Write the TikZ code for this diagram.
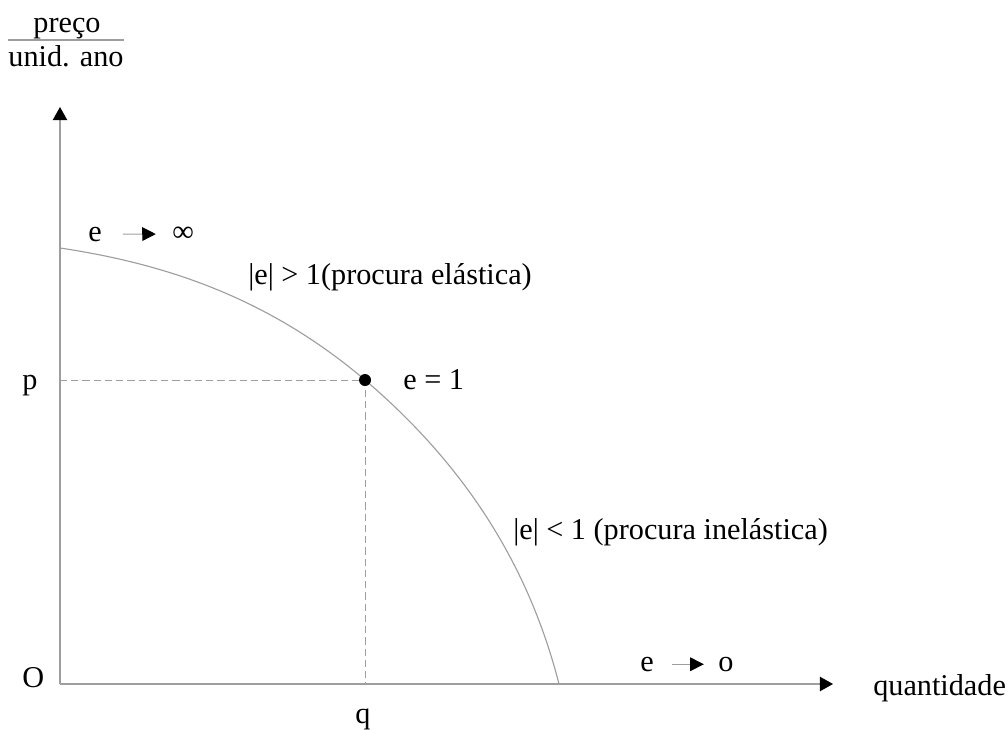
\documentclass[tikz,border=0pt]{standalone}
\usepackage{fontspec}
\setmainfont{Liberation Serif}
\usepackage{tikz}
\usetikzlibrary{arrows.meta}

\definecolor{linha}{gray}{0.62}
\tikzset{
  rotulo/.style={inner sep=0pt, font=\fontsize{21.5}{26}\selectfont},
  eixo/.style={linha, line width=1.1pt, -{Triangle[black, length=0.33cm, width=0.36cm]}},
  seta/.style={linha, line width=0.8pt, -{Triangle[black, length=0.34cm, width=0.34cm]}},
  guia/.style={linha, line width=0.7pt, dash pattern=on 5pt off 3pt},
}

\begin{document}
\begin{tikzpicture}[x=0.025cm, y=-0.025cm]
        \useasboundingbox (0,0) rectangle (1008,730);

        % Eixos
        \coordinate (O) at (60,684);
        \coordinate (ytopo) at (60,107);
        \coordinate (xfim) at (833,684);
        \draw[eixo] (O) -- (ytopo);
        \draw[eixo] (O) -- (xfim);
        \node[rotulo, anchor=mid west] (origem) at (22,684) {O};
        \node[rotulo, anchor=mid west] (quant) at (873,692) {quantidade};

        % Unidade do eixo vertical
        \node[rotulo, anchor=mid] (preco) at (67,29) {preço};
        \node[rotulo, anchor=mid] (unid) at (66,63) {unid. ano};
        \coordinate (fracA) at (8,40);
        \coordinate (fracB) at (124,40);
        \draw[linha, line width=0.8pt] (fracA) -- (fracB);

        % Curva da procura
        \coordinate (inicio) at (60,248);
        \coordinate (P) at (365,380);
        \coordinate (fim) at (559,684);
        \draw[linha, line width=0.8pt] (inicio) .. controls (160,263) and (265,295) .. (P)
                                      .. controls (460,461) and (527,559) .. (fim);

        % Ponto com e = 1
        \coordinate (py) at (60,380);
        \coordinate (qx) at (365,684);
        \draw[guia] (py) -- (P) -- (qx);
        \fill (P) circle (0.15cm);
        \node[rotulo, anchor=mid west] (p) at (22,386) {p};
        \node[rotulo, anchor=mid] (q) at (363,720) {q};
        \node[rotulo, anchor=mid west] (eum) at (403,386) {e = 1};

        % Elasticidades
        \node[rotulo, anchor=mid west] (einf) at (88,238) {e};
        \node[rotulo, anchor=mid west] (inf) at (172,238) {∞};
        \node[rotulo, anchor=mid west] (elast) at (248,281) {|e| > 1(procura elástica)};
        \node[rotulo, anchor=mid west] (inelast) at (513,536) {|e| < 1 (procura inelástica)};
        \node[rotulo, anchor=mid west] (ezero) at (640,668) {e};
        \node[rotulo, anchor=mid west] (zero) at (718,668) {o};
        \draw[seta, shorten <=0.7cm, shorten >=0.68cm] (einf.center) -- (inf.center);
        \draw[seta, shorten <=0.62cm, shorten >=0.55cm] (ezero.center) -- (zero.center);
\end{tikzpicture}
\end{document}
